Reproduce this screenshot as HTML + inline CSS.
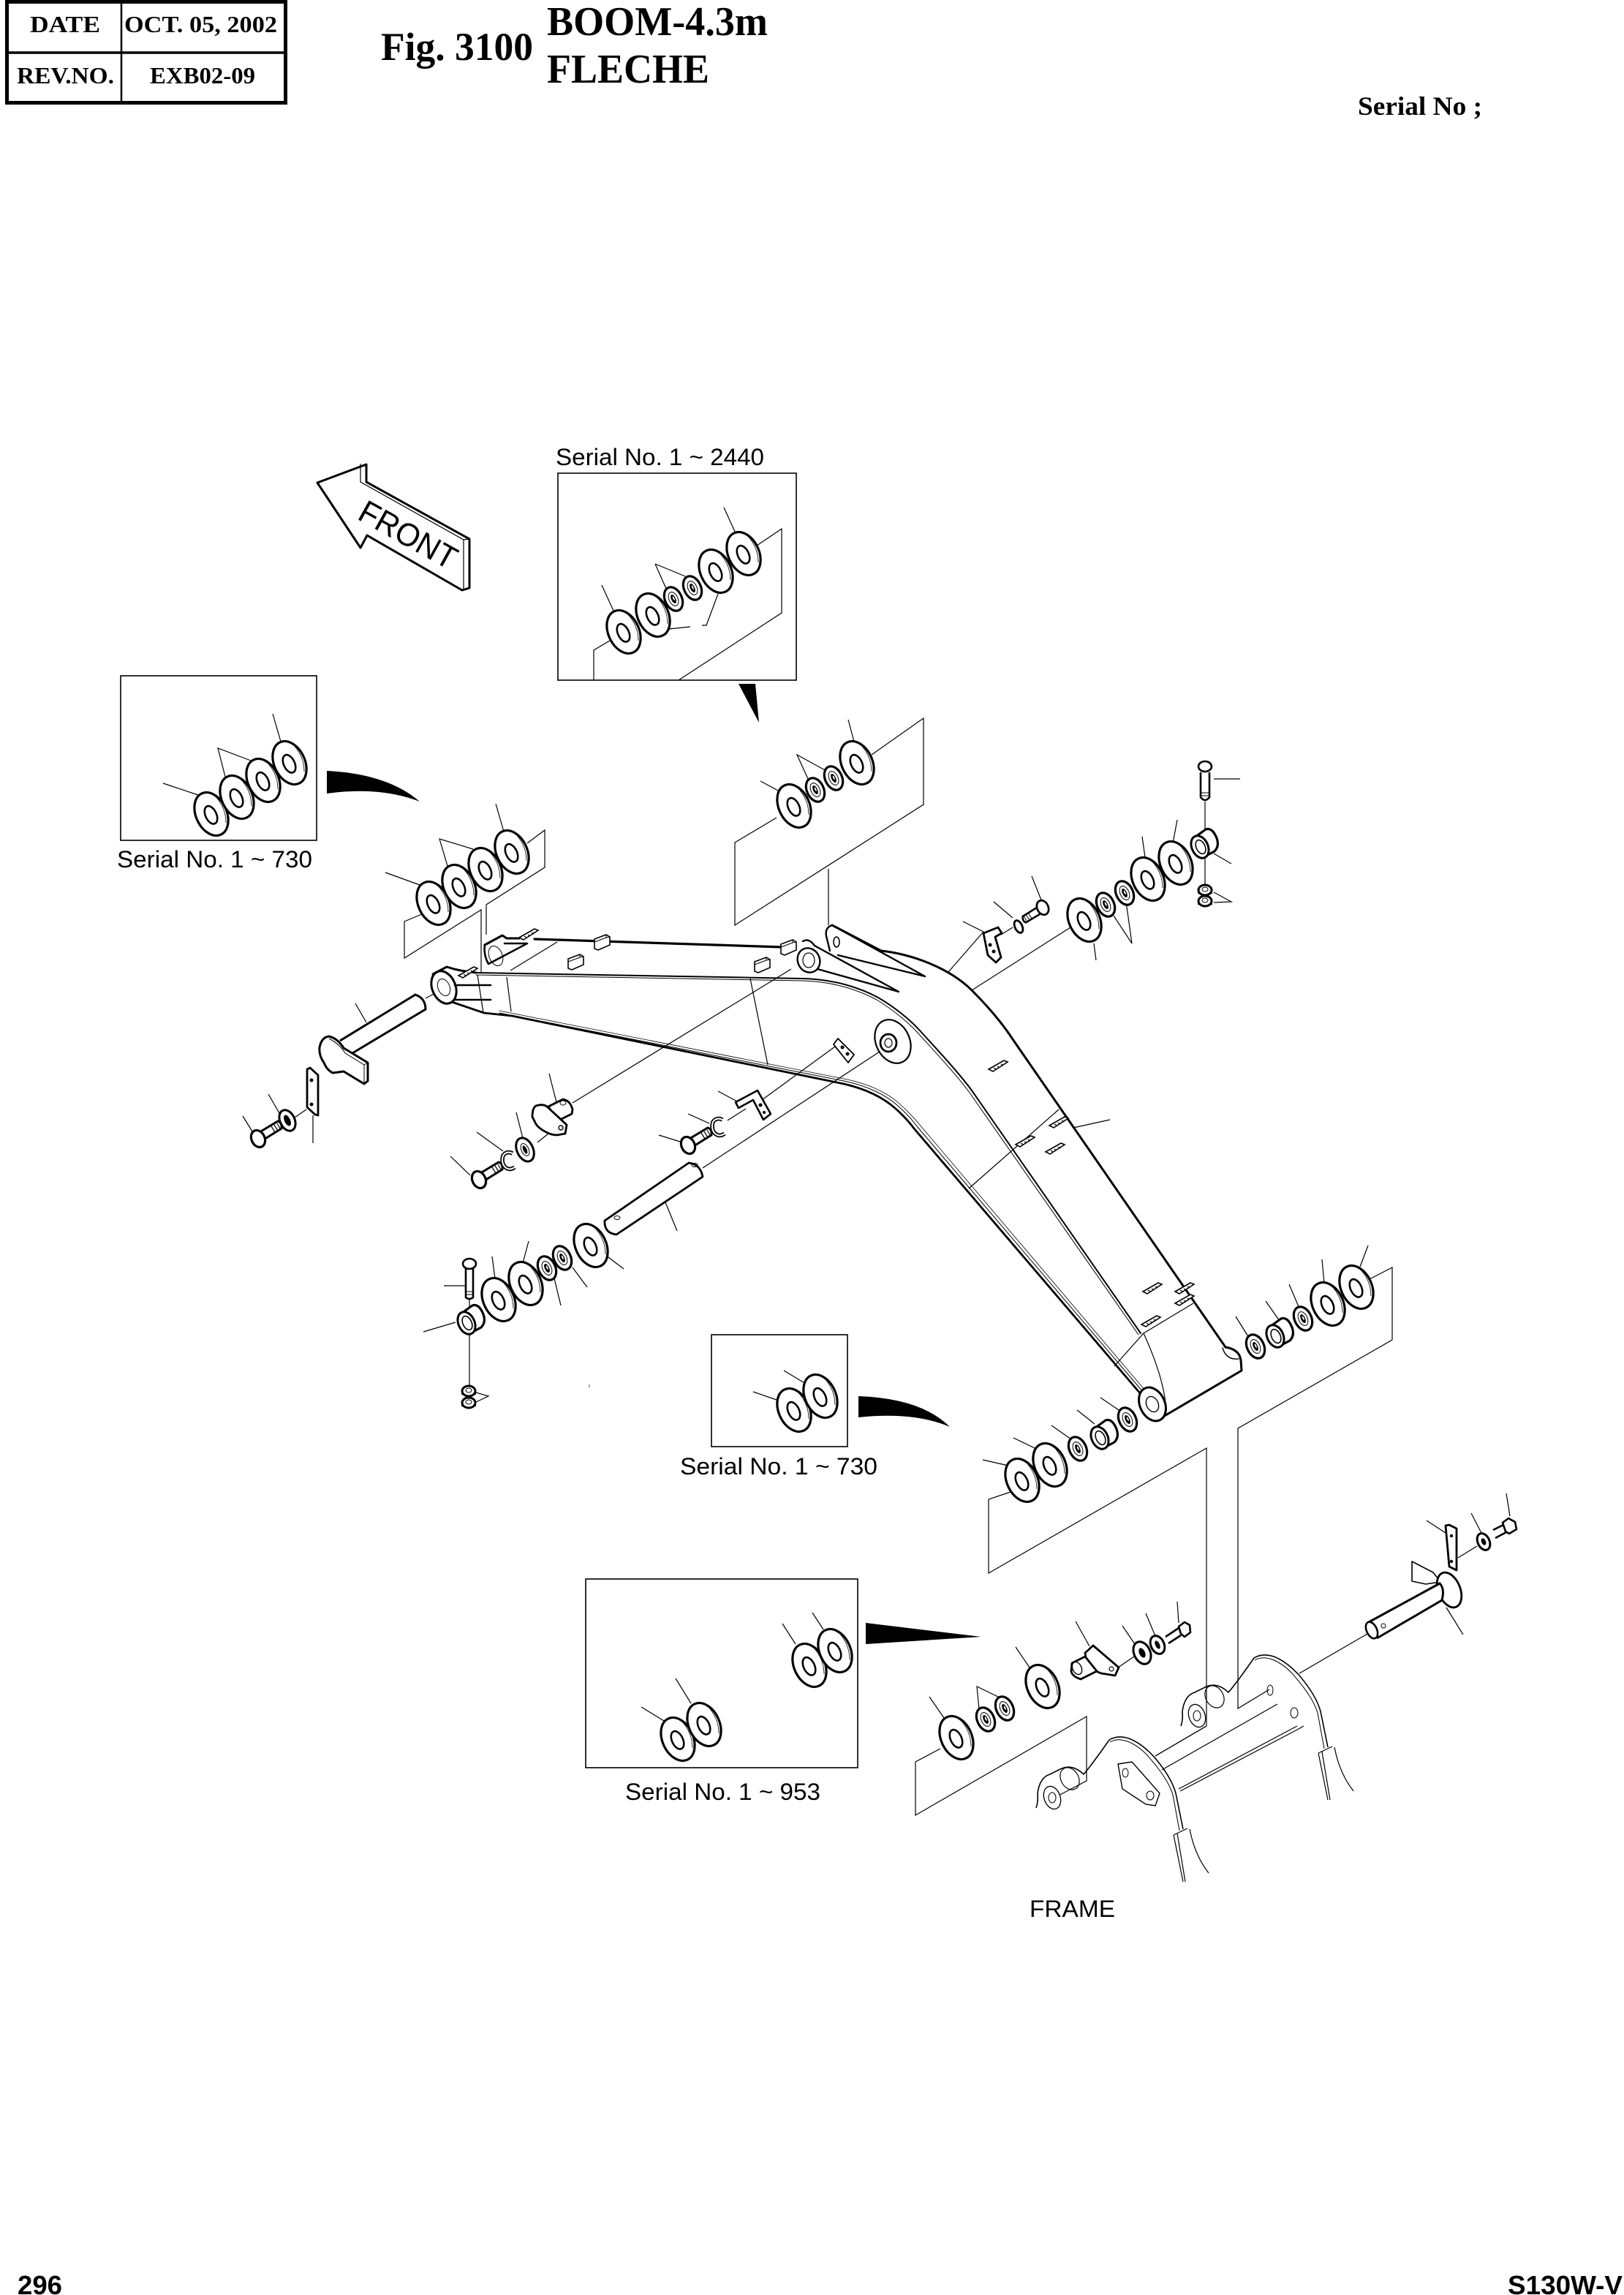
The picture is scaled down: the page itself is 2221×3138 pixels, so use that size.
<!DOCTYPE html>
<html><head><meta charset="utf-8"><title>Fig. 3100 BOOM-4.3m</title>
<style>html,body{margin:0;padding:0;background:#fff}svg{display:block}</style></head>
<body>
<svg xmlns="http://www.w3.org/2000/svg" width="2221" height="3138" viewBox="0 0 2221 3138">
<defs>
<g id="w"><ellipse rx="21" ry="31" transform="rotate(-25)" fill="#fff" stroke="#000" stroke-width="3.2"/><ellipse cx="-1" cy="1" rx="7.5" ry="13" transform="rotate(-25)" fill="#fff" stroke="#000" stroke-width="2.6"/><path d="M3,-27 Q20,-10 20,12" fill="none" stroke="#000" stroke-width=".8"/></g>
<g id="n"><ellipse rx="11.5" ry="17" transform="rotate(-25)" fill="#fff" stroke="#000" stroke-width="3.2"/><ellipse rx="6" ry="10" transform="rotate(-25)" fill="#fff" stroke="#000" stroke-width="1"/><ellipse rx="3" ry="6.5" transform="rotate(-25)" fill="#000"/><ellipse cx=".6" cy="-.6" rx="1" ry="3" transform="rotate(-25)" fill="#fff"/></g>
<g id="bs"><path d="M-15,-6 L3,-19 Q12,-22 18,-7 Q22,4 15,11 L-2,20 Z" fill="#fff" stroke="#000" stroke-width="3.2" stroke-linejoin="round"/><ellipse cx="-5" cy="5" rx="11" ry="16" transform="rotate(-25 -5 5)" fill="#fff" stroke="#000" stroke-width="3"/><ellipse cx="-4" cy="5" rx="6" ry="10" transform="rotate(-25 -4 5)" fill="#fff" stroke="#000" stroke-width="1.6"/></g>
<g id="b"><path d="M2,-9 L27,-24 Q33,-22 32,-14 L8,1" fill="#fff" stroke="#000" stroke-width="3"/><path d="M18,-17l5,8M22,-19l5,8M26,-21l4,7" stroke="#000" stroke-width="1.2" fill="none"/><ellipse rx="9" ry="12" transform="rotate(-25)" fill="#fff" stroke="#000" stroke-width="3.2"/></g>
<g id="c"><path d="M6,-10 Q-2,-14 -7,-7 Q-10,3 -4,9 Q2,14 9,9" fill="none" stroke="#000" stroke-width="5.5"/><path d="M6,-10 Q-2,-14 -7,-7 Q-10,3 -4,9 Q2,14 9,9" fill="none" stroke="#fff" stroke-width="2"/></g>
<g id="t"><path d="M-10,-6 L6,-12 L11,-9 L11,2 L-5,9 L-10,7 Z" fill="#fff" stroke="#000" stroke-width="1.6"/><path d="M-10,-2 L6,-8 L11,-9M6,-12V-8" fill="none" stroke="#000" stroke-width="1"/></g>
<g id="s"><path d="M-13,4 L8,-8 L13,-6 L-7,7 Z" fill="#fff" stroke="#000" stroke-width="1.6"/><path d="M-6,2l3,2M-1,0l3,2M4,-3l3,2" stroke="#000" stroke-width="1.2"/></g>
<g id="nut"><ellipse rx="9" ry="7" fill="#fff" stroke="#000" stroke-width="3"/><ellipse cy="-1" rx="4" ry="3" fill="none" stroke="#000" stroke-width="1"/><path d="M-9,1v4M9,1v4" stroke="#000" stroke-width="2"/></g>
<g id="fp"><path d="M1615,2360 Q1618,2352 1617,2340 Q1620,2318 1634,2314 L1650,2306 Q1665,2300 1680,2314 Q1692,2300 1715,2267 Q1726,2260 1742,2265 Q1760,2272 1777,2291 Q1800,2318 1806,2340 L1816,2389" fill="none" stroke="#000" stroke-width="1.6"/><path d="M1716,2270 Q1726,2264 1740,2269 Q1758,2276 1773,2295 Q1796,2322 1802,2342 L1811,2391" fill="none" stroke="#000" stroke-width="1"/><ellipse cx="1637" cy="2346" rx="11" ry="16" transform="rotate(-20 1637 2346)" fill="#fff" stroke="#000" stroke-width="1.3"/><ellipse cx="1637" cy="2346" rx="5" ry="7" fill="none" stroke="#000" stroke-width="1"/><ellipse cx="1661" cy="2320" rx="12" ry="16" transform="rotate(-30 1661 2320)" fill="none" stroke="#000" stroke-width="1.2"/><path d="M1803,2397 L1822,2388 M1803,2397 L1816,2461 M1808,2395 L1819,2461 M1825,2389 Q1832,2425 1851,2449" fill="none" stroke="#000" stroke-width="1.2"/></g>
</defs>
<rect width="2221" height="3138" fill="#fff"/>

<!-- header -->
<g fill="none" stroke="#000">
<rect x="9.5" y="2.5" width="381" height="138" stroke-width="5"/>
<path d="M8,72H392" stroke-width="3.5"/><path d="M166,2V140" stroke-width="2.5"/>
</g>
<g font-family="'Liberation Serif',serif" font-weight="700" fill="#000">
<text x="41" y="44" font-size="32" textLength="96" lengthAdjust="spacingAndGlyphs">DATE</text>
<text x="170" y="44" font-size="32" textLength="209" lengthAdjust="spacingAndGlyphs">OCT. 05, 2002</text>
<text x="23" y="114" font-size="32" textLength="133" lengthAdjust="spacingAndGlyphs">REV.NO.</text>
<text x="205" y="114" font-size="32" textLength="144" lengthAdjust="spacingAndGlyphs">EXB02-09</text>
<text x="521" y="82" font-size="54" textLength="208" lengthAdjust="spacingAndGlyphs">Fig. 3100</text>
<text x="748" y="48" font-size="56" textLength="302" lengthAdjust="spacingAndGlyphs">BOOM-4.3m</text>
<text x="748" y="113" font-size="56" textLength="222" lengthAdjust="spacingAndGlyphs">FLECHE</text>
<text x="1857" y="157" font-size="36" textLength="170" lengthAdjust="spacingAndGlyphs">Serial No ;</text>
</g>
<g font-family="'Liberation Sans',sans-serif" font-weight="700" fill="#000">
<text x="24" y="3137" font-size="36" textLength="61" lengthAdjust="spacingAndGlyphs">296</text>
<text x="2062" y="3137" font-size="36" textLength="157" lengthAdjust="spacingAndGlyphs">S130W-V</text>
</g>
<g font-family="'Liberation Sans',sans-serif" fill="#000" font-size="32">
<text x="760" y="636" textLength="285" lengthAdjust="spacingAndGlyphs">Serial No. 1 ~ 2440</text>
<text x="160" y="1186" textLength="267" lengthAdjust="spacingAndGlyphs">Serial No. 1 ~ 730</text>
<text x="930" y="2016" textLength="270" lengthAdjust="spacingAndGlyphs">Serial No. 1 ~ 730</text>
<text x="855" y="2461" textLength="267" lengthAdjust="spacingAndGlyphs">Serial No. 1 ~ 953</text>
<text x="1408" y="2621" textLength="117" lengthAdjust="spacingAndGlyphs">FRAME</text>
</g>

<!-- inset boxes -->
<g fill="none" stroke="#000" stroke-width="1.6">
<rect x="763" y="647" width="326" height="283"/>
<rect x="165" y="924" width="268" height="225"/>
<rect x="973" y="1825" width="186" height="153"/>
<rect x="801" y="2159" width="372" height="258"/>
</g>

<!-- pointers -->
<path d="M1010,935 L1033,935 L1038,988 Z" fill="#000"/>
<path d="M447,1054 Q530,1058 574,1096 Q520,1075 447,1085 Z" fill="#000"/>
<path d="M1174,1909 Q1260,1912 1299,1951 Q1250,1930 1174,1938 Z" fill="#000"/>
<path d="M1184,2219 L1342,2238 L1184,2248 Z" fill="#000"/>

<!-- FRONT arrow -->
<path d="M434,660 L501,635 L501,659 L642,737 L642,804 L632,807 L502,732 L493,749 Z" fill="#fff" stroke="#000" stroke-width="3" stroke-linejoin="round"/>
<path d="M493,634 V659 L634,738 V806 M634,738 L642,737" fill="none" stroke="#000" stroke-width="1.2"/>
<text transform="translate(487,709) rotate(29)" font-family="'Liberation Sans',sans-serif" font-size="44" textLength="146" lengthAdjust="spacingAndGlyphs" fill="#000">FRONT</text>

<!-- thin leaders & planes -->
<g fill="none" stroke="#000" stroke-width="1.2">
<path d="M823,800L839,835M896,771L912,807M896,771L937,788M990,694L1006,729M982,812L966,855H960M944,857L915,860"/>
<path d="M1032,748L1069,723V838L928,930M839,873L812,889V930"/>
<path d="M223,1071L271,1087M308,1062L298,1023L343,1040M373,976L384,1014"/>
<path d="M527,1193L574,1210M612,1184L601,1147L647,1161M678,1099L689,1137"/>
<path d="M577,1250L553,1260V1310L658,1244V1329M665,1278V1237L745,1186V1135L721,1153"/>
<path d="M1040,1068L1066,1082M1106,1067L1090,1032L1130,1054M1160,984L1168,1014"/>
<path d="M1062,1118L1005,1152V1265L1263,1100V982L1192,1032M1133,1188V1265"/>
<path d="M1026,1338L1050,1456M762,1288L698,1327M693,1336L699,1383M653,1333L661,1385M1518,1531L1468,1542M1448,1517L1325,1625M1632,1782L1564,1823L1524,1868M1564,1823Q1590,1880 1594,1919"/>
<path d="M1464,1268L1329,1354M1345,1274L1297,1329M1385,1268L1369,1278"/>
<path d="M1317,1260L1349,1276M1359,1233L1385,1255M1411,1198L1425,1233M1496,1290L1499,1313M1523,1252L1548,1290L1540,1233M1562,1144L1566,1172M1610,1121L1604,1153M1660,1065H1696M1660,1167L1684,1181M1660,1220L1684,1233L1660,1234M1648,1096V1210"/>
<path d="M616,1581L643,1607M652,1548L688,1574M706,1521L715,1556M751,1468L761,1507M783,1508L1082,1325M735,1562L750,1550"/>
<path d="M982,1492L1010,1507M941,1523L970,1536M901,1552L930,1561M1042,1504L1142,1431M995,1532L1020,1516"/>
<path d="M910,1644L926,1683M961,1597L1209,1434"/>
<path d="M486,1372L501,1398M582,1365L597,1357M428,1525V1563M367,1496L382,1522M332,1526L345,1547M403,1528L419,1517"/>
<path d="M673,1718L677,1748M723,1697L715,1727M767,1785L758,1748M803,1760L783,1733M853,1735L828,1716M607,1758H636M579,1821L623,1808M651,1904L668,1909L651,1917M642,1777V1897"/>
<path d="M1030,1903L1062,1914M1072,1874L1102,1892"/>
<path d="M877,2334L908,2353M924,2295L945,2329M1070,2220L1088,2248M1111,2205L1126,2228"/>
<path d="M1690,1800L1708,1829M1731,1779L1752,1809M1763,1756L1777,1789M1808,1722L1811,1755M1871,1703L1860,1732"/>
<path d="M1873,1749L1904,1733V1832L1693,1953V2336L1736,2310"/>
<path d="M1505,1911L1533,1930M1473,1928L1497,1947M1438,1949L1465,1968M1386,1966L1417,1981M1344,1996L1379,2004"/>
<path d="M1385,2039L1352,2050V2151L1650,1980V2360L1580,2401"/>
<path d="M1389,2252L1410,2283M1339,2337L1336,2306L1367,2321M1271,2320L1291,2349"/>
<path d="M1286,2391L1252,2409V2482L1486,2347V2435L1442,2458"/>
<path d="M1471,2217L1490,2251M1535,2223L1552,2248M1567,2206L1580,2237M1610,2190L1612,2219M1529,2280L1551,2265"/>
<path d="M1978,2198L2001,2235M1870,2234L1777,2288M1951,2079L1977,2096M2012,2069L2026,2096M2060,2042L2065,2073M1994,2130L2020,2114"/>
</g>

<!-- boom -->
<g fill="none" stroke="#000" stroke-linejoin="round" stroke-linecap="round">
<path d="M731,1284 L1070,1295" stroke-width="3.2"/>
<path d="M651,1330 L1098,1338 C1140,1339 1175,1350 1201,1364 C1225,1378 1245,1395 1257,1408 C1275,1428 1310,1465 1329,1491 L1560,1823" stroke-width="2"/>
<path d="M651,1333 L1098,1341 C1138,1342 1173,1353 1199,1367 C1222,1381 1242,1398 1254,1411 C1272,1431 1307,1468 1326,1494 L1557,1825" stroke-width="1"/>
<path d="M1205,1300 C1250,1305 1300,1325 1329,1354 C1350,1375 1370,1398 1385,1421 L1676,1842" stroke-width="3"/>
<path d="M1676,1842 Q1695,1845 1697,1860 L1698,1874 L1584,1941" stroke-width="3"/>
<path d="M1672,1843 Q1677,1860 1694,1858" stroke-width="1.4"/>
<path d="M618,1370 L662,1385 L700,1389 L1154,1482 C1180,1488 1205,1498 1225,1516 C1235,1525 1242,1532 1250,1543 L1560,1906" stroke-width="2.8"/>
<path d="M683,1385 L1154,1478 C1182,1484 1208,1494 1228,1512 C1238,1521 1246,1529 1254,1540 L1563,1903" stroke-width="1"/>
<path d="M683,1382 L1154,1475 C1184,1481 1210,1491 1230,1509 C1240,1518 1248,1526 1257,1537 L1566,1901" stroke-width=".8"/>
<ellipse cx="1576" cy="1920" rx="17" ry="24" transform="rotate(-25 1576 1920)" fill="#fff" stroke-width="3"/>
<ellipse cx="1576" cy="1920" rx="8" ry="11" transform="rotate(-25 1576 1920)" stroke-width="1.4"/>
<path d="M592,1332 L611,1322 L621,1325 L630,1327 L651,1330" fill="#fff" stroke-width="3"/>
<ellipse cx="607" cy="1350" rx="16" ry="23" transform="rotate(-22 607 1350)" fill="#fff" stroke-width="3"/>
<ellipse cx="607" cy="1350" rx="8" ry="12" transform="rotate(-22 607 1350)" stroke-width="1"/>
<path d="M622,1347H671M622,1367H671" stroke-width="2.6"/>
<path d="M663,1292 L687,1279 L693,1283 L710,1283" stroke-width="3"/>
<path d="M663,1292 Q661,1305 668,1318 L721,1290 L690,1290" stroke-width="2.6"/>
<ellipse cx="678" cy="1307" rx="9" ry="14" transform="rotate(-22 678 1307)" stroke-width="1"/>
<path d="M1265,1335 L1138,1265 Q1128,1268 1130,1280 L1135,1300 M1146,1306 L1265,1335" stroke-width="2.4"/>
<path d="M1138,1265 L1205,1300" stroke-width="3"/>
<ellipse cx="1144" cy="1288" rx="4" ry="7" stroke-width="1.6"/>
<path d="M1098,1287 Q1106,1282 1114,1293 L1229,1356 M1118,1325 L1229,1356" stroke-width="2.4"/>
<ellipse cx="1106" cy="1313" rx="15" ry="17" transform="rotate(-25 1106 1313)" fill="#fff" stroke-width="2.4"/>
<ellipse cx="1106" cy="1313" rx="8" ry="10" stroke-width="1.2"/>
<ellipse cx="1221" cy="1424" rx="23" ry="31" transform="rotate(-25 1221 1424)" fill="#fff" stroke-width="2.2"/>
<ellipse cx="1215" cy="1426" rx="11" ry="12" fill="#fff" stroke-width="2.8"/>
<ellipse cx="1215" cy="1426" rx="5" ry="6" stroke-width="1.2"/>
</g>
<use href="#t" x="823" y="1290"/><use href="#t" x="787" y="1317"/><use href="#t" x="1078" y="1297"/><use href="#t" x="1042" y="1321"/>
<use href="#s" x="640" y="1330"/><use href="#s" x="723" y="1278"/>
<use href="#s" x="1365" y="1458"/><use href="#s" x="1448" y="1535"/><use href="#s" x="1402" y="1561"/><use href="#s" x="1443" y="1571"/><use href="#s" x="1576" y="1762"/><use href="#s" x="1574" y="1807"/><use href="#s" x="1620" y="1778"/><use href="#s" x="1620" y="1762"/>

<!-- washers -->
<use href="#w" x="853" y="864"/><use href="#w" x="893" y="841"/><use href="#n" x="921" y="819"/><use href="#n" x="947" y="804"/><use href="#w" x="979" y="781"/><use href="#w" x="1017" y="757"/>
<use href="#w" x="289" y="1113"/><use href="#w" x="324" y="1090"/><use href="#w" x="360" y="1067"/><use href="#w" x="396" y="1043"/>
<use href="#w" x="593" y="1235"/><use href="#w" x="628" y="1212"/><use href="#w" x="664" y="1189"/><use href="#w" x="700" y="1165"/>
<use href="#w" x="1086" y="1102"/><use href="#n" x="1115" y="1080"/><use href="#n" x="1140" y="1064"/><use href="#w" x="1172" y="1043"/>
<use href="#w" x="1483" y="1258"/><use href="#n" x="1512" y="1237"/><use href="#n" x="1538" y="1221"/><use href="#w" x="1570" y="1202"/><use href="#w" x="1608" y="1180"/><use href="#bs" x="1646" y="1153"/>
<use href="#nut" x="1648" y="1217"/><use href="#nut" x="1648" y="1232"/>
<path d="M1642,1056V1090Q1648,1098 1654,1090V1056" fill="#fff" stroke="#000" stroke-width="2.6"/><path d="M1643,1084h10M1643,1088h10" stroke="#000" stroke-width="1"/><ellipse cx="1648" cy="1048" rx="9" ry="7" fill="#fff" stroke="#000" stroke-width="2.6"/>
<g transform="translate(1426,1241) rotate(180) scale(.85)"><use href="#b"/></g>
<ellipse cx="1393" cy="1267" rx="5" ry="9" transform="rotate(-25 1393 1267)" fill="#fff" stroke="#000" stroke-width="2.8"/>
<path d="M1345,1276 L1365,1268 L1370,1276 L1361,1281 L1369,1309 L1362,1316 L1351,1306 Z" fill="#fff" stroke="#000" stroke-width="2.8" stroke-linejoin="round"/><circle cx="1354" cy="1292" r="2.5"/><circle cx="1359" cy="1301" r="2.5"/>

<use href="#w" x="808" y="1703"/><use href="#n" x="769" y="1720"/><use href="#n" x="748" y="1734"/><use href="#w" x="719" y="1755"/><use href="#w" x="682" y="1777"/><use href="#bs" x="643" y="1804"/>
<use href="#nut" x="641" y="1902"/><use href="#nut" x="641" y="1918"/>
<path d="M637,1732V1774Q642,1778 647,1774V1732" fill="#fff" stroke="#000" stroke-width="2.6"/><path d="M638,1766h8M638,1770h8" stroke="#000" stroke-width="1"/><ellipse cx="642" cy="1728" rx="9" ry="7" fill="#fff" stroke="#000" stroke-width="2.6"/>

<!-- long pin -->
<path d="M827,1669 L942,1590 Q958,1592 961,1609 L843,1688 Q826,1686 827,1669 Z" fill="#fff" stroke="#000" stroke-width="2.8" stroke-linejoin="round"/>
<ellipse cx="844" cy="1665" rx="4" ry="2.5" fill="none" stroke="#000"/><ellipse cx="950" cy="1593" rx="4" ry="2.5" fill="none" stroke="#000"/>

<!-- mid bracket and plate -->
<path d="M1006,1507 L1036,1491 L1054,1523 L1044,1531 L1030,1504 L1010,1515 Z" fill="#fff" stroke="#000" stroke-width="2.6" stroke-linejoin="round"/><circle cx="1040" cy="1511" r="2.5"/><circle cx="1045" cy="1521" r="2"/>
<path d="M1140,1428 L1146,1420 L1168,1442 L1160,1453 Z" fill="#fff" stroke="#000" stroke-width="1.8" stroke-linejoin="round"/><circle cx="1152" cy="1432" r="2.5"/><circle cx="1159" cy="1441" r="2.5"/>
<use href="#c" x="982" y="1541"/><use href="#b" x="941" y="1566"/>

<!-- cap pin -->
<use href="#b" x="655" y="1613"/><use href="#c" x="695" y="1587"/>
<ellipse cx="718" cy="1572" rx="11" ry="17" transform="rotate(-25 718 1572)" fill="#fff" stroke="#000" stroke-width="3"/><ellipse cx="718" cy="1572" rx="5" ry="9" transform="rotate(-25 718 1572)" fill="none" stroke="#000" stroke-width="1"/><ellipse cx="718" cy="1572" rx="2.5" ry="6" transform="rotate(-25 718 1572)"/>
<path d="M750,1513 L770,1503 Q780,1505 783,1517 L782,1523 L768,1530 L760,1530 Z" fill="#fff" stroke="#000" stroke-width="2.8" stroke-linejoin="round"/>
<path d="M728,1527 Q728,1515 733,1512 Q742,1509 748,1513 L775,1538 L773,1550 L762,1552 Q754,1552 747,1548 Q737,1543 733,1537 Z" fill="#fff" stroke="#000" stroke-width="2.8" stroke-linejoin="round"/>
<ellipse cx="770" cy="1508" rx="4" ry="3" fill="none" stroke="#000"/><circle cx="767" cy="1542" r="3" fill="none" stroke="#000" stroke-width="1.4"/>

<!-- left pin -->
<path d="M465,1423 L568,1360 Q582,1365 582,1380 L482,1440" fill="#fff" stroke="#000" stroke-width="3"/>
<path d="M437,1432 Q440,1418 450,1417 Q462,1420 470,1433 L503,1453 V1478 L498,1482 L470,1465 L455,1467 Q447,1463 443,1453 Q436,1443 437,1432 Z" fill="#fff" stroke="#000" stroke-width="3" stroke-linejoin="round"/>
<path d="M450,1420 Q465,1428 472,1440 L498,1456 V1481 M498,1456 L503,1453" fill="none" stroke="#000" stroke-width="1"/>
<path d="M420,1462 L424,1460 L435,1470 V1525 L431,1524 L420,1514 Z" fill="#fff" stroke="#000" stroke-width="2.8" stroke-linejoin="round"/><circle cx="426" cy="1477" r="2.5"/><circle cx="426" cy="1510" r="2.5"/>
<ellipse cx="393" cy="1532" rx="10" ry="15" transform="rotate(-25 393 1532)" fill="#fff" stroke="#000" stroke-width="3"/><ellipse cx="393" cy="1532" rx="4" ry="8" transform="rotate(-25 393 1532)"/>
<use href="#b" x="353" y="1557"/>

<!-- insets -->
<use href="#w" x="1086" y="1928"/><use href="#w" x="1122" y="1909"/>
<use href="#w" x="927" y="2378"/><use href="#w" x="963" y="2358"/><use href="#w" x="1107" y="2277"/><use href="#w" x="1142" y="2257"/>

<!-- right stacks -->
<use href="#n" x="1717" y="1841"/><use href="#bs" x="1749" y="1822"/><use href="#n" x="1782" y="1803"/><use href="#w" x="1816" y="1783"/><use href="#w" x="1855" y="1760"/>
<use href="#n" x="1542" y="1941"/><use href="#bs" x="1509" y="1961"/><use href="#n" x="1474" y="1981"/><use href="#w" x="1436" y="2003"/><use href="#w" x="1398" y="2024"/>
<use href="#w" x="1426" y="2306"/><use href="#n" x="1374" y="2336"/><use href="#n" x="1348" y="2351"/><use href="#w" x="1308" y="2376"/>

<!-- cap lower -->
<path d="M1484,2260 L1495,2250 L1530,2280 L1525,2291 L1506,2288 L1487,2280 Z" fill="#fff" stroke="#000" stroke-width="2.8" stroke-linejoin="round"/>
<path d="M1466,2274 L1484,2265 L1500,2285 L1478,2296 Q1466,2292 1465,2285 Z" fill="#fff" stroke="#000" stroke-width="2.8" stroke-linejoin="round"/>
<ellipse cx="1473" cy="2281" rx="6" ry="9" transform="rotate(-25 1473 2281)" fill="#fff" stroke="#000" stroke-width="1.4"/><circle cx="1520" cy="2282" r="3" fill="none" stroke="#000" stroke-width="1.2"/>
<ellipse cx="1562" cy="2260" rx="11" ry="16" transform="rotate(-25 1562 2260)" fill="#fff" stroke="#000" stroke-width="3"/><ellipse cx="1562" cy="2260" rx="4" ry="7" transform="rotate(-25 1562 2260)"/>
<ellipse cx="1583" cy="2249" rx="9" ry="13" transform="rotate(-25 1583 2249)" fill="#fff" stroke="#000" stroke-width="3"/><ellipse cx="1583" cy="2249" rx="3" ry="6" transform="rotate(-25 1583 2249)"/>
<path d="M1594,2238 L1612,2226 M1598,2247 L1615,2236" stroke="#000" stroke-width="2.6"/>
<path d="M1612,2224 L1620,2218 L1627,2222 L1628,2232 L1620,2238 L1615,2234 Z" fill="#fff" stroke="#000" stroke-width="2.6" stroke-linejoin="round"/>

<!-- frame -->
<use href="#fp"/><use href="#fp" transform="translate(-198,112)"/>
<g fill="none" stroke="#000">
<path d="M1529,2412 L1548,2409 L1586,2452 L1580,2469 L1567,2467 L1535,2446 Z" fill="#fff" stroke-width="1.4"/>
<ellipse cx="1539" cy="2424" rx="4" ry="6" stroke-width="1"/><ellipse cx="1573" cy="2455" rx="5" ry="6" stroke-width="1"/>
<path d="M1580,2401L1650,2360M1589,2420L1747,2330" stroke-width="1.2"/>
<path d="M1612,2446L1774,2360M1614,2449L1776,2364L1783,2360" stroke-width="1.2"/>
<ellipse cx="1737" cy="2311" rx="4" ry="7" stroke-width="1"/><ellipse cx="1770" cy="2342" rx="5" ry="7" stroke-width="1"/>
</g>

<!-- right pin -->
<path d="M1931,2135 L1960,2150 L1970,2163 L1950,2166 L1931,2162 Z" fill="#fff" stroke="#000" stroke-width="1.6" stroke-linejoin="round"/>
<ellipse cx="1982" cy="2174" rx="15" ry="25" transform="rotate(-22 1982 2174)" fill="#fff" stroke="#000" stroke-width="2.8"/>
<path d="M1870,2219 L1969,2165 Q1976,2172 1972,2188 L1883,2240" fill="#fff" stroke="#000" stroke-width="3"/>
<ellipse cx="1876" cy="2229" rx="7" ry="12" transform="rotate(-25 1876 2229)" fill="#fff" stroke="#000" stroke-width="2.6"/><circle cx="1892" cy="2223" r="3" fill="none" stroke="#000"/>
<path d="M1977,2086 L1982,2085 L1992,2090 V2147 L1982,2142 Z" fill="#fff" stroke="#000" stroke-width="2.8" stroke-linejoin="round"/><circle cx="1985" cy="2100" r="2.2"/><circle cx="1985" cy="2135" r="2.2"/>
<ellipse cx="2029" cy="2108" rx="8" ry="12" transform="rotate(-25 2029 2108)" fill="#fff" stroke="#000" stroke-width="3"/><ellipse cx="2029" cy="2108" rx="3" ry="5" transform="rotate(-25 2029 2108)"/>
<path d="M2042,2092 L2058,2084 M2045,2103 L2062,2094" stroke="#000" stroke-width="2.6"/>
<path d="M2055,2082 L2063,2076 L2072,2081 L2074,2091 L2064,2097 L2059,2094 Z" fill="#fff" stroke="#000" stroke-width="2.6" stroke-linejoin="round"/>
<rect x="805" y="1893" width="1.5" height="4" fill="#888"/>
</svg>
</body></html>
